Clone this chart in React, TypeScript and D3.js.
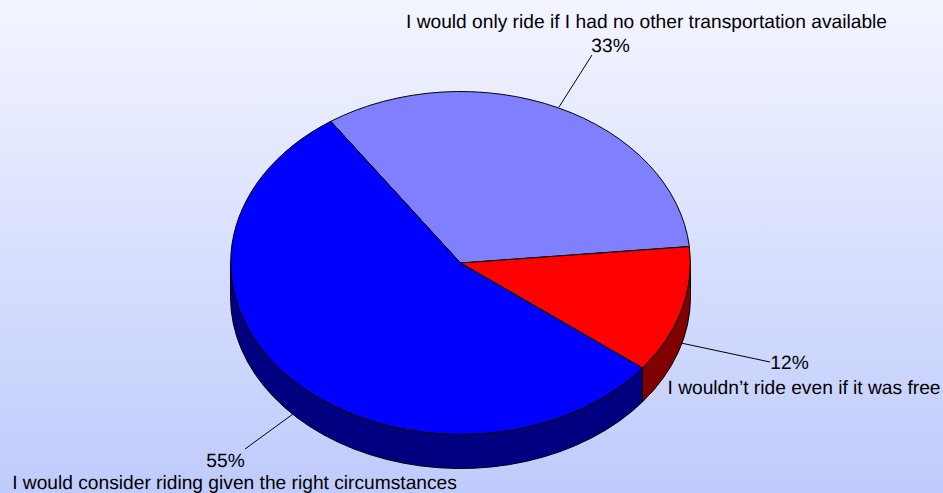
import React from "react";
import * as d3 from "d3";

const categories = [
  "I would only ride if I had no other transportation available",
  "I wouldn’t ride even if it was free",
  "I would consider riding given the right circumstances",
];
const values = [33, 12, 55];
const topColors = ["#8080ff", "#ff0000", "#0000ff"];
const sideColors = ["#40408f", "#800000", "#000080"];

const W = 943, H = 493;
const cx = 460.5, cy = 263, rx = 230, ry = 171.5, depth = 34;
const startDeg = -34.3;

const pie = d3.pie<number>().sort(null).startAngle((startDeg * Math.PI) / 180).endAngle(((startDeg + 360) * Math.PI) / 180);
const arcs = pie(values);
const arc = d3.arc<any>().innerRadius(0).outerRadius(1);
const px = (a: number) => cx + rx * Math.sin(a);
const py = (a: number) => cy - ry * Math.cos(a);

function sidePath(a0: number, a1: number) {
  const s = Math.max(a0, Math.PI / 2), e = Math.min(a1, (3 * Math.PI) / 2);
  if (e <= s) return null;
  const large = e - s > Math.PI ? 1 : 0;
  return `M${px(s)},${py(s)}A${rx},${ry} 0 ${large} 1 ${px(e)},${py(e)}L${px(e)},${py(e) + depth}A${rx},${ry} 0 ${large} 0 ${px(s)},${py(s) + depth}Z`;
}

const labels = [
  { lines: [{ t: categories[0], x: 646.5, y: 27.5 }, { t: "33%", x: 610.5, y: 51.5 }], leader: [559, 107, 592, 55] },
  { lines: [{ t: "12%", x: 789.5, y: 368.5 }, { t: categories[1], x: 804, y: 393.5 }], leader: [681, 343, 770, 362] },
  { lines: [{ t: "55%", x: 225.5, y: 466.5 }, { t: categories[2], x: 234.5, y: 489 }], leader: [293, 414, 245, 449] },
];

export default function App() {
  return (
    <svg width={W} height={H} viewBox={`0 0 ${W} ${H}`} style={{ position: "absolute", left: 0, top: 0, display: "block" }}>
      <defs>
        <linearGradient id="bg" x1="0" y1="0" x2="0" y2="1">
          <stop offset="0" stopColor="#f3f5ff" />
          <stop offset="1" stopColor="#bfcbfc" />
        </linearGradient>
      </defs>
      <rect width={W} height={H} fill="url(#bg)" />
      {arcs.map((d, i) => {
        const p = sidePath(d.startAngle, d.endAngle);
        return p ? <path key={i} d={p} fill={sideColors[i]} stroke="#000" strokeWidth={1} strokeLinejoin="round" /> : null;
      })}
      {arcs.map((d, i) => (
        <path
          key={i}
          d={arc(d) as string}
          transform={`translate(${cx},${cy}) scale(${rx},${ry})`}
          fill={topColors[i]}
          stroke="#000"
          strokeWidth={1}
          strokeLinejoin="round"
          vectorEffect="non-scaling-stroke"
        />
      ))}
      {labels.map((l, i) => (
        <g key={i}>
          <line x1={l.leader[0]} y1={l.leader[1]} x2={l.leader[2]} y2={l.leader[3]} stroke="#000" strokeWidth={1} />
          {l.lines.map((t, j) => (
            <text key={j} x={t.x} y={t.y} textAnchor="middle" fontFamily="Liberation Sans" fontSize={19.2} textRendering="geometricPrecision" fill="#000">
              {t.t}
            </text>
          ))}
        </g>
      ))}
    </svg>
  );
}
